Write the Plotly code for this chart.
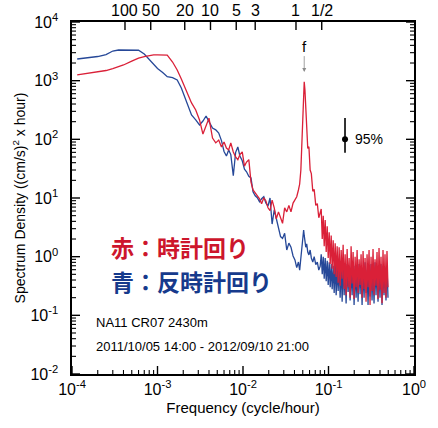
import math
import plotly.graph_objects as go

# Rotary spectra of the current record (cycle/hour vs (cm/s)^2 x hour)
freq_cph = [
    # smoothed low-frequency band
    1.15e-4, 1.5e-4, 2.0e-4, 2.5e-4, 3.0e-4, 3.5e-4, 4.0e-4, 5.0e-4, 6.0e-4, 7.0e-4,
    8.0e-4, 9.0e-4, 1.0e-3, 1.15e-3, 1.3e-3, 1.5e-3, 1.7e-3, 1.9e-3, 2.1e-3, 2.3e-3,
    2.5e-3, 2.8e-3, 3.1e-3, 3.4e-3, 3.7e-3, 4.0e-3, 4.4e-3, 4.8e-3,
    # mid band and inertial peak
    0.0052, 0.0056, 0.0060, 0.0064, 0.0068, 0.0072, 0.0077, 0.0082, 0.0087, 0.0092,
    0.0098, 0.0104, 0.0110, 0.0117, 0.0124, 0.0131, 0.0139, 0.0147, 0.0156, 0.0165,
    0.0175, 0.0185, 0.0196, 0.0207, 0.0219, 0.0232, 0.0245, 0.0260, 0.0275, 0.0290,
    0.0307, 0.0325, 0.0344, 0.0364, 0.0385, 0.0405, 0.0425, 0.0445, 0.0460, 0.0475,
    0.0490, 0.0502, 0.0512, 0.0520, 0.0530, 0.0542, 0.0556, 0.0572, 0.0590, 0.0610,
    0.0630, 0.0655, 0.0680, 0.0710, 0.0740, 0.0770, 0.0800,
    # high-frequency band up to Nyquist
    0.0822, 0.0845, 0.0868, 0.0891, 0.0915, 0.0940, 0.0966, 0.0992, 0.1019, 0.1047,
    0.1075, 0.1104, 0.1134, 0.1165, 0.1197, 0.1229, 0.1263, 0.1297, 0.1332, 0.1368,
    0.1406, 0.1444, 0.1483, 0.1523, 0.1565, 0.1607, 0.1651, 0.1696, 0.1742, 0.1790,
    0.1838, 0.1888, 0.1940, 0.1992, 0.2047, 0.2102, 0.2160, 0.2218, 0.2279, 0.2341,
    0.2404, 0.2470, 0.2537, 0.2606, 0.2677, 0.2750, 0.2824, 0.2901, 0.2980, 0.3061,
    0.3145, 0.3230, 0.3318, 0.3408, 0.3501, 0.3596, 0.3694, 0.3795, 0.3898, 0.4004,
    0.4113, 0.4225, 0.4340, 0.4458, 0.4579, 0.4704, 0.4832, 0.4963,
]

# clockwise component (red)
cw_psd = [
    1250, 1330, 1430, 1490, 1610, 1710, 1850, 2160, 2430, 2580,
    2690, 2750, 2750, 2750, 2720, 2080, 1520, 1070, 750, 570,
    417, 316, 214, 123, 175, 230, 105, 87,
    97, 74, 90, 71, 66, 87, 61, 50, 45, 55,
    61, 35, 41, 45, 18.7, 13.7, 12.2, 10.9, 9.7, 8.0,
    10.1, 9.0, 6.8, 6.1, 9.2, 6.8, 4.4, 5.8, 4.7, 3.7,
    6.8, 5.8, 7.5, 5.8, 8.2, 9.2, 10.5, 13.7, 17.3, 30,
    130, 450, 800, 960, 700, 330, 120, 70, 75, 30,
    26, 13, 14, 7.5, 8.0, 4.6, 5.6,
    6.5, 2.0, 5.0, 1.5, 4.2, 1.2, 3.3, 0.95, 2.6, 0.75,
    2.3, 0.62, 1.9, 0.50, 1.7, 0.45, 1.5, 0.36, 1.45, 0.32,
    1.3, 0.42, 1.6, 0.28, 1.1, 0.22, 1.35, 0.30, 0.95, 0.20,
    1.5, 0.35, 1.2, 0.19, 1.0, 0.30, 1.3, 0.24, 0.90, 0.33,
    1.1, 0.20, 1.25, 0.28, 0.95, 0.17, 1.1, 0.30, 1.3, 0.15,
    1.0, 0.26, 1.35, 0.22, 0.90, 0.32, 1.2, 0.19, 1.4, 0.27,
    1.0, 0.16, 1.3, 0.24, 1.1, 0.20, 1.25, 0.30,
]

# counter-clockwise component (blue)
ccw_psd = [
    2340, 2430, 2580, 2790, 3200, 3330, 3330, 3330, 3300, 2850,
    2290, 1850, 1610, 1380, 1170, 1130, 1030, 750, 507, 340,
    260, 214, 176, 205, 250, 200, 156, 145,
    128, 95, 62, 52, 66, 55, 24, 60, 74, 52,
    43, 31, 28, 23.5, 22, 12.7, 10.9, 10.1, 8.6, 9.7,
    10.5, 8.2, 7.3, 10.0, 3.6, 6.3, 4.4, 3.1, 2.2, 2.05,
    2.5, 1.3, 1.7, 1.45, 1.03, 0.88, 0.65, 0.81, 0.59, 0.95,
    1.6, 2.2, 2.85, 2.3, 1.92, 1.45, 1.65, 1.2, 1.07, 1.3,
    0.95, 0.81, 1.0, 0.73, 0.81, 0.59, 0.69,
    1.1, 0.50, 1.0, 0.42, 0.95, 0.38, 0.85, 0.33, 0.80, 0.30,
    0.75, 0.28, 0.70, 0.24, 0.80, 0.22, 0.65, 0.26, 0.75, 0.20,
    0.70, 0.17, 0.80, 0.22, 0.60, 0.16, 0.75, 0.25, 0.70, 0.18,
    0.65, 0.22, 0.80, 0.15, 0.70, 0.20, 0.60, 0.17, 0.75, 0.23,
    0.70, 0.15, 0.65, 0.20, 0.80, 0.24, 0.60, 0.15, 0.70, 0.21,
    0.75, 0.18, 0.65, 0.16, 0.80, 0.22, 0.70, 0.17, 0.60, 0.20,
    0.75, 0.15, 0.70, 0.22, 0.65, 0.18, 0.70, 0.20,
]

# period scale (days) along the top
period_days = [100, 50, 20, 10, 5, 3, 1, 0.5]
period_labels = ["100", "50", "20", "10", "5", "3", "1", "1/2"]

freq_exponents = [-4, -3, -2, -1, 0]
psd_exponents = [-2, -1, 0, 1, 2, 3, 4]

# inertial frequency marker and 95% confidence interval
inertial_freq = 0.052
inertial_arrow_psd = 1400
ci_freq = 0.156
ci_psd = 100
ci_lower = 59
ci_upper = 230

RED = "rgb(218,32,56)"
BLUE = "rgb(38,72,152)"
FONT = "Liberation Sans"
CJK = "Noto Sans CJK JP"

X_RANGE = (-4, 0)
Y_RANGE = (-2, 4)
PLOT_W, PLOT_H = 342, 352          # plot area in pixels
DEC_X = PLOT_W / (X_RANGE[1] - X_RANGE[0])   # pixels per decade
DEC_Y = PLOT_H / (Y_RANGE[1] - Y_RANGE[0])
MAJOR_LEN, MINOR_LEN = 8, 4

fig = go.Figure()
fig.add_trace(go.Scatter(x=freq_cph, y=ccw_psd, mode="lines",
                         line=dict(color=BLUE, width=1.3), showlegend=False,
                         hoverinfo="skip"))
fig.add_trace(go.Scatter(x=freq_cph, y=cw_psd, mode="lines",
                         line=dict(color=RED, width=1.3), showlegend=False,
                         hoverinfo="skip"))
fig.add_trace(go.Scatter(
    x=[ci_freq], y=[ci_psd], mode="markers",
    marker=dict(color="black", size=6),
    error_y=dict(type="data", symmetric=False,
                 array=[ci_upper - ci_psd], arrayminus=[ci_psd - ci_lower],
                 width=0, thickness=1.6, color="black"),
    showlegend=False, hoverinfo="skip"))


# inward tick marks built as line segments in data space
def tick_segments(length):
    dx = length / DEC_X
    dy = length / DEC_Y
    xs, ys = [], []

    def add(x0, y0, x1, y1):
        xs.extend([10 ** x0, 10 ** x1, None])
        ys.extend([10 ** y0, 10 ** y1, None])

    if length == MAJOR_LEN:
        xpos = [float(e) for e in freq_exponents]
        ypos = [float(e) for e in psd_exponents]
        top = [math.log10(1 / (24 * d)) for d in period_days]
    else:
        xpos = [e + math.log10(k) for e in freq_exponents[:-1] for k in range(2, 10)]
        ypos = [e + math.log10(k) for e in psd_exponents[:-1] for k in range(2, 10)]
        top = []
    for lx in xpos:
        add(lx, Y_RANGE[0], lx, Y_RANGE[0] + dy)
    for lx in top:
        add(lx, Y_RANGE[1], lx, Y_RANGE[1] - dy)
    for ly in ypos:
        add(X_RANGE[0], ly, X_RANGE[0] + dx, ly)
        add(X_RANGE[1], ly, X_RANGE[1] - dx, ly)
    return xs, ys


for length, width in ((MAJOR_LEN, 1.4), (MINOR_LEN, 1.1)):
    tx, ty = tick_segments(length)
    fig.add_trace(go.Scatter(x=tx, y=ty, mode="lines", connectgaps=False,
                             line=dict(color="black", width=width),
                             showlegend=False, hoverinfo="skip"))

axis_common = dict(type="log", showgrid=False, zeroline=False, showline=True,
                   linecolor="black", linewidth=1.5, ticks="", mirror=True,
                   tickfont=dict(family=FONT, size=16, color="black"))

fig.update_layout(
    width=438, height=428, autosize=False,
    margin=dict(l=72, r=24, t=22, b=54),
    paper_bgcolor="white", plot_bgcolor="white",
    xaxis=dict(**axis_common, range=list(X_RANGE), tickmode="array",
               tickvals=[10 ** e for e in freq_exponents],
               ticktext=[f"10<sup>{e}</sup>" for e in freq_exponents],
               title=dict(text="Frequency (cycle/hour)", standoff=6,
                          font=dict(family=FONT, size=15, color="black"))),
    yaxis=dict(**axis_common, range=list(Y_RANGE), tickmode="array",
               tickvals=[10 ** e for e in psd_exponents],
               ticktext=[f"10<sup>{e}</sup>  " for e in psd_exponents],
               title=dict(text="Spectrum Density ((cm/s)<sup>2</sup> x hour)",
                          standoff=2,
                          font=dict(family=FONT, size=14, color="black"))),
)

# period labels along the top edge
for d, lab in zip(period_days, period_labels):
    fig.add_annotation(x=math.log10(1 / (24 * d)), y=1, xref="x", yref="paper",
                       text=lab, showarrow=False, yanchor="bottom", yshift=1,
                       font=dict(family=FONT, size=16, color="black"))

fig.add_annotation(x=math.log10(inertial_freq), y=math.log10(inertial_arrow_psd),
                   xref="x", yref="y", text="f", showarrow=True,
                   ax=0, ay=-26, arrowhead=2, arrowsize=1, arrowwidth=0.8,
                   arrowcolor="#8a8a8a",
                   font=dict(family=FONT, size=15, color="black"))
fig.add_annotation(x=math.log10(ci_freq), y=math.log10(ci_psd), xref="x", yref="y",
                   text="95%", showarrow=False, xanchor="left", xshift=8,
                   font=dict(family=FONT, size=14, color="black"))

fig.add_annotation(x=0.108, y=0.361, xref="paper", yref="paper",
                   text="<b>赤：時計回り</b>", showarrow=False,
                   xanchor="left", yanchor="middle",
                   font=dict(family=CJK, size=23, color="rgb(205,22,44)"))
fig.add_annotation(x=0.108, y=0.264, xref="paper", yref="paper",
                   text="<b>青：反時計回り</b>", showarrow=False,
                   xanchor="left", yanchor="middle",
                   font=dict(family=CJK, size=23, color="rgb(22,58,140)"))
fig.add_annotation(x=0.065, y=0.145, xref="paper", yref="paper",
                   text="NA11 CR07 2430m", showarrow=False, xanchor="left",
                   yanchor="middle", font=dict(family=FONT, size=13, color="black"))
fig.add_annotation(x=0.065, y=0.077, xref="paper", yref="paper",
                   text="2011/10/05 14:00 - 2012/09/10 21:00", showarrow=False,
                   xanchor="left", yanchor="middle",
                   font=dict(family=FONT, size=13, color="black"))

fig.write_html("out.html")
